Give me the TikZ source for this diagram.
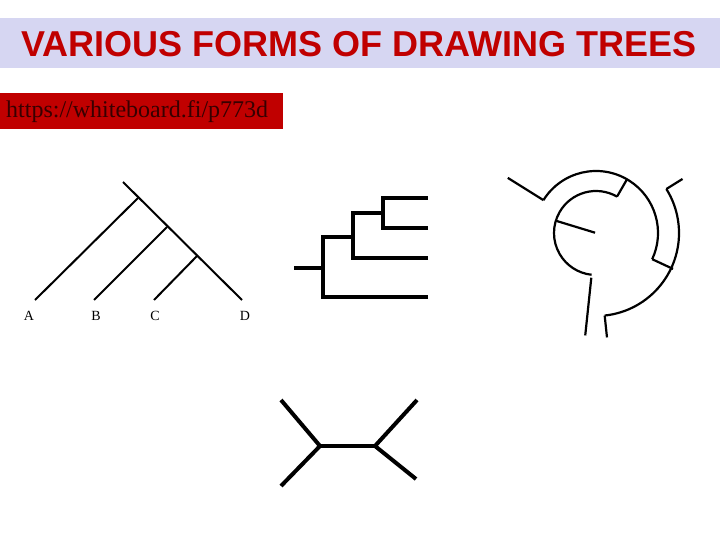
\documentclass[tikz,border=0pt]{standalone}
\usepackage{fontspec}
\setmainfont{Liberation Serif}
\newfontfamily\headfont{Liberation Sans}
\usetikzlibrary{calc}
\definecolor{barblue}{RGB}{214,214,242}
\definecolor{darkred}{RGB}{192,0,0}
\definecolor{linkink}{RGB}{55,0,0}
\def\radial(#1)(#2:#3:#4){\draw ([shift={(#1)}]#2:#3) -- ([shift={(#1)}]#2:#4);}

\begin{document}
\begin{tikzpicture}[x=1pt,y=1pt]
		%%%%% FRAME %%%%%
		\useasboundingbox (0,0) rectangle (720,-540);
		\fill[barblue] (0,-18) rectangle (720,-68);
		\node[text=darkred, font=\headfont\bfseries\fontsize{36}{40}\selectfont] (title) at (359,-44) {VARIOUS FORMS OF DRAWING TREES};
		\fill[darkred] (0,-93) rectangle (283,-129);
		\node[anchor=base west, text=linkink, font=\fontsize{24}{26}\selectfont, inner sep=0pt] (link) at (6,-118) {https://whiteboard.fi/p773d};
		
		%%%%% CLADOGRAM %%%%%
		\draw[line width=2pt] (123,-182) -- (242,-300);
		\draw[line width=2pt] (138,-198) -- (35,-300);
		\draw[line width=2pt] (167,-227) -- (94,-300);
		\draw[line width=2pt] (197,-256) -- (154,-300);
		\node[font=\fontsize{14}{16}\selectfont] (labA) at (29,-316) {A};
		\node[font=\fontsize{14}{16}\selectfont] (labB) at (96,-316) {B};
		\node[font=\fontsize{14}{16}\selectfont] (labC) at (155,-316) {C};
		\node[font=\fontsize{14}{16}\selectfont] (labD) at (245,-316) {D};
		
		%%%%% RECTANGULAR %%%%%
		\draw[line width=3.5pt] (294,-268) -- (323,-268);
		\draw[line width=3.5pt] (428,-297) -| (323,-237) -- (353,-237);
		\draw[line width=3.5pt] (428,-258) -| (353,-213) -- (383,-213);
		\draw[line width=3.5pt] (428,-228) -| (383,-198) -- (428,-198);
		
		%%%%% CIRCULAR %%%%%
		\coordinate (ctr) at (596,-233);
		\begin{scope}[line width=2.2pt]
			\draw ([shift={(ctr)}]148:62) arc (148:-25:62);
			\draw ([shift={(ctr)}]60:42) arc (60:264:42);
			\draw ([shift={(ctr)}]-84:83) arc (-84:32:83);
			\radial(ctr)(60:42:62)
			\radial(ctr)(163:1:42)
			\radial(ctr)(264:45:103)
			\radial(ctr)(148:62:104)
			\radial(ctr)(-25:62:85)
			\radial(ctr)(32:83:102)
			\radial(ctr)(-84:83:105)
		\end{scope}
		
		%%%%% UNROOTED %%%%%
		\draw[line width=4pt] (281,-400) -- (320,-446) -- (281,-486);
		\draw[line width=4pt] (320,-446) -- (375,-446);
		\draw[line width=4pt] (417,-400) -- (375,-446) -- (416,-479);
		%%%%% END %%%%%
	\end{tikzpicture}
\end{document}
